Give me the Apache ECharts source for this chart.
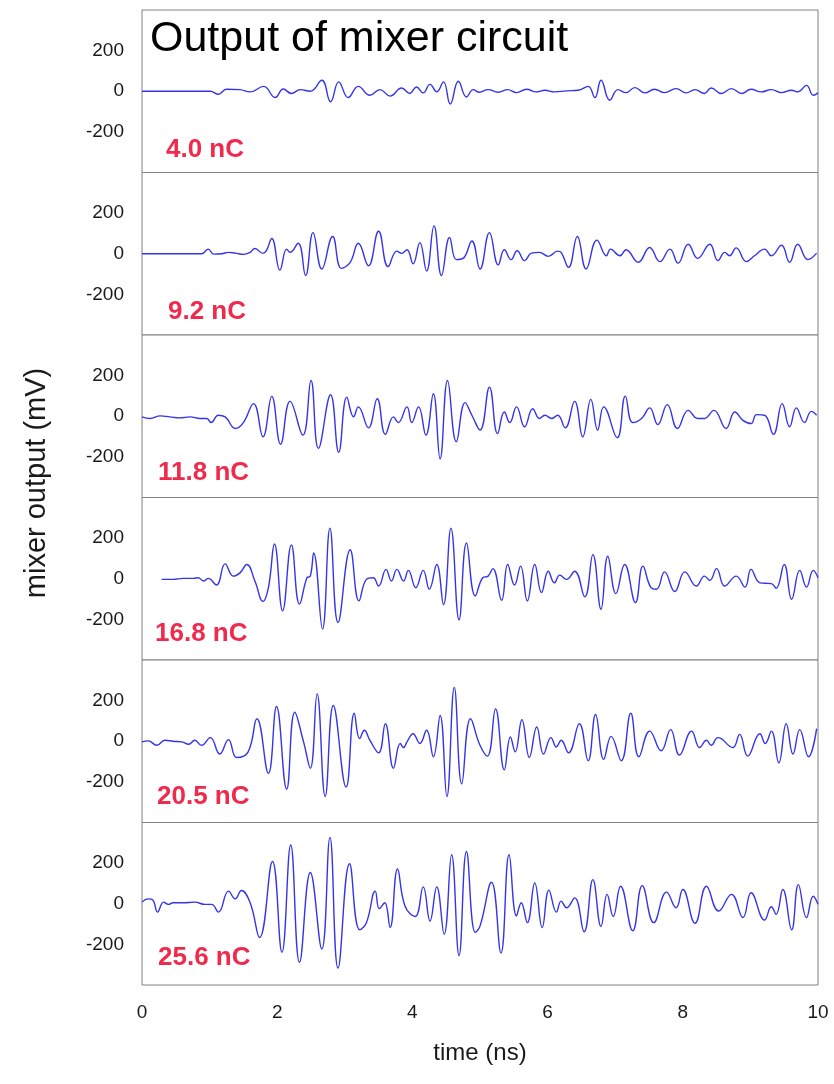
<!DOCTYPE html>
<html><head><meta charset="utf-8">
<script src="https://cdn.jsdelivr.net/npm/echarts@6/dist/echarts.min.js"></script>
<style>html,body{margin:0;padding:0;background:#fff}#c{width:834px;height:1084px}</style>
</head><body><div id="c"></div>
<script>
// ---- data: [time (ns), mixer output (mV)] ----
const charges = ['4.0 nC', '9.2 nC', '11.8 nC', '16.8 nC', '20.5 nC', '25.6 nC'];
const xTicks = [0, 2, 4, 6, 8, 10];
const yTicks = [-200, 0, 200];

const p1 = [[0,0],[1.01,0],[1.13,-15],[1.25,10],[1.45,8],[1.60,-3],[1.80,24],[1.97,-31],[2.09,11],[2.21,-11],[2.34,8],[2.49,0],[2.66,54],[2.79,-52],[2.91,46],[3.05,-31],[3.20,24],[3.37,-20],[3.52,8],[3.67,-24],[3.84,16],[3.96,-11],[4.06,21],[4.16,-8],[4.26,34],[4.36,-3],[4.46,46],[4.56,-63],[4.68,49],[4.80,-28],[4.90,8],[4.99,-5],[5.12,8],[5.27,-5],[5.41,8],[5.54,-7],[5.69,10],[5.83,-3],[5.96,5],[6.10,-3],[6.28,2],[6.45,5],[6.60,24],[6.70,-31],[6.79,54],[6.92,-44],[7.04,8],[7.16,-7],[7.29,18],[7.44,-8],[7.58,10],[7.73,-7],[7.90,13],[8.05,-8],[8.18,8],[8.32,-11],[8.42,16],[8.57,-11],[8.72,13],[8.87,-11],[9.01,10],[9.16,-3],[9.31,8],[9.46,-7],[9.61,5],[9.70,-3],[9.83,29],[9.93,-20],[10.0,-8]];

const p2 = [[0,0],[0.88,0],[0.98,23],[1.06,-2],[1.18,0],[1.28,7],[1.38,3],[1.50,-3],[1.60,7],[1.67,26],[1.79,2],[1.84,15],[1.92,75],[2.04,-80],[2.14,23],[2.19,7],[2.31,52],[2.42,-107],[2.53,104],[2.66,-75],[2.82,85],[2.95,-72],[3.08,-42],[3.20,52],[3.35,-59],[3.50,111],[3.64,-63],[3.77,13],[3.84,2],[3.92,20],[4.01,-50],[4.11,55],[4.21,-85],[4.32,137],[4.43,-107],[4.55,80],[4.65,-29],[4.75,-23],[4.88,63],[5.00,-75],[5.14,104],[5.27,-55],[5.36,20],[5.46,-29],[5.55,15],[5.66,-34],[5.76,3],[5.88,7],[6.01,-13],[6.15,13],[6.20,7],[6.31,-67],[6.44,85],[6.57,-75],[6.73,67],[6.87,-10],[6.93,23],[7.07,-10],[7.16,20],[7.34,-42],[7.51,31],[7.66,-39],[7.81,23],[7.93,-46],[8.08,47],[8.22,-23],[8.40,47],[8.52,-34],[8.62,7],[8.69,-10],[8.79,29],[8.94,-39],[9.06,-10],[9.21,23],[9.31,-10],[9.46,42],[9.58,-42],[9.70,47],[9.85,-29],[9.98,3]];

const p3 = [[0,-3],[0.12,-11],[0.27,2],[0.41,-3],[0.56,-8],[0.71,-3],[0.86,-11],[0.96,-11],[1.02,-31],[1.13,5],[1.23,-3],[1.38,-60],[1.50,-31],[1.65,62],[1.79,-101],[1.92,98],[2.05,-138],[2.19,73],[2.38,-93],[2.50,176],[2.61,-158],[2.79,106],[2.91,-177],[3.03,94],[3.13,-3],[3.20,46],[3.35,-57],[3.48,86],[3.60,-89],[3.72,-3],[3.79,-31],[3.92,46],[3.99,-31],[4.09,46],[4.20,-93],[4.31,111],[4.41,-210],[4.52,176],[4.65,-125],[4.78,67],[4.88,5],[5.00,-68],[5.14,143],[5.26,-85],[5.36,21],[5.44,-31],[5.54,46],[5.66,-52],[5.78,37],[5.88,-11],[5.96,5],[6.06,-11],[6.15,5],[6.26,-57],[6.40,73],[6.52,-101],[6.64,83],[6.74,-68],[6.83,46],[7.03,-106],[7.15,99],[7.26,-31],[7.39,-11],[7.51,41],[7.63,-41],[7.77,57],[7.92,-60],[8.08,29],[8.22,-11],[8.32,-11],[8.46,29],[8.64,-60],[8.77,21],[8.89,-20],[9.01,-36],[9.09,8],[9.21,5],[9.34,-89],[9.47,62],[9.58,-52],[9.68,41],[9.80,-31],[9.90,24],[9.98,5]];

const p4 = [[0.29,-3],[0.46,-3],[0.61,2],[0.76,2],[0.83,5],[0.91,-11],[0.98,2],[1.10,-31],[1.23,73],[1.35,13],[1.45,29],[1.55,70],[1.67,-11],[1.79,-112],[1.87,-44],[1.96,171],[2.08,-158],[2.21,167],[2.33,-125],[2.44,5],[2.49,13],[2.54,127],[2.67,-247],[2.78,249],[2.90,-215],[3.08,143],[3.21,-109],[3.32,-3],[3.42,5],[3.50,-36],[3.61,46],[3.69,-11],[3.77,46],[3.87,-11],[3.94,41],[4.05,-44],[4.16,41],[4.25,-52],[4.36,70],[4.46,-128],[4.57,249],[4.69,-203],[4.80,176],[4.93,-85],[5.04,5],[5.12,13],[5.19,50],[5.32,-106],[5.41,70],[5.51,-31],[5.60,62],[5.70,-109],[5.81,70],[5.91,-68],[6.01,37],[6.10,-20],[6.18,18],[6.28,-3],[6.40,37],[6.55,-89],[6.67,119],[6.79,-150],[6.89,111],[7.01,-73],[7.14,70],[7.30,-117],[7.41,62],[7.53,-44],[7.61,-52],[7.73,34],[7.88,-63],[8.03,34],[8.20,-36],[8.32,13],[8.40,-8],[8.50,50],[8.62,-36],[8.79,13],[8.92,-41],[9.01,46],[9.14,-20],[9.31,-24],[9.38,-47],[9.50,70],[9.61,-101],[9.73,41],[9.83,-41],[9.93,41],[10.0,5]];

const p5 = [[0,-3],[0.09,2],[0.22,-20],[0.34,5],[0.46,0],[0.59,-3],[0.69,-15],[0.78,5],[0.88,-20],[1.01,18],[1.15,-63],[1.28,8],[1.40,-80],[1.57,-52],[1.70,111],[1.87,-158],[1.99,171],[2.14,-236],[2.26,143],[2.39,-3],[2.49,-133],[2.59,233],[2.71,-272],[2.83,176],[3.02,-226],[3.14,138],[3.22,13],[3.29,54],[3.37,5],[3.50,-57],[3.60,86],[3.72,-133],[3.82,-11],[3.87,-31],[3.92,-3],[4.01,37],[4.11,-11],[4.21,54],[4.31,-76],[4.41,127],[4.51,-272],[4.62,265],[4.73,-210],[4.86,111],[5.00,-20],[5.11,-73],[5.23,159],[5.36,-141],[5.45,21],[5.52,-52],[5.62,106],[5.73,-80],[5.84,70],[5.94,-63],[6.05,18],[6.13,-28],[6.20,5],[6.31,-57],[6.47,86],[6.60,-96],[6.71,132],[6.83,-89],[6.94,24],[7.09,-96],[7.23,138],[7.35,-76],[7.51,50],[7.68,-47],[7.82,57],[7.95,-68],[8.13,50],[8.25,-31],[8.35,5],[8.42,-20],[8.52,18],[8.74,-31],[8.84,34],[8.96,-73],[9.14,37],[9.22,-11],[9.31,50],[9.42,-106],[9.53,86],[9.63,-63],[9.73,57],[9.86,-76],[9.98,62]];

const p6 = [[0,8],[0.09,24],[0.16,18],[0.23,-41],[0.32,8],[0.39,-3],[0.46,5],[0.61,5],[0.78,8],[0.93,-3],[1.03,-3],[1.13,-41],[1.28,62],[1.38,24],[1.47,65],[1.60,5],[1.74,-166],[1.93,208],[2.07,-239],[2.20,289],[2.33,-288],[2.49,154],[2.66,-223],[2.78,327],[2.90,-317],[3.07,197],[3.22,-128],[3.32,-93],[3.45,62],[3.51,-24],[3.59,5],[3.67,-117],[3.78,171],[3.89,-11],[4.04,-63],[4.16,83],[4.26,-85],[4.36,83],[4.47,-150],[4.58,241],[4.69,-255],[4.80,257],[4.93,-141],[5.00,-110],[5.17,106],[5.31,-242],[5.43,241],[5.54,-60],[5.61,5],[5.70,-93],[5.81,102],[5.92,-117],[6.02,67],[6.13,-41],[6.20,13],[6.28,-20],[6.40,29],[6.54,-138],[6.67,119],[6.79,-112],[6.88,46],[6.97,-63],[7.08,86],[7.26,-133],[7.40,89],[7.57,-93],[7.76,57],[7.90,-20],[8.00,70],[8.18,-96],[8.35,86],[8.53,-36],[8.72,46],[8.89,-68],[9.01,54],[9.21,-80],[9.31,-15],[9.38,-52],[9.48,70],[9.61,-128],[9.71,94],[9.83,-68],[9.93,37],[10.0,-3]];

const panels = [p1, p2, p3, p4, p5, p6];

// ---- layout ----
const FONT = '"Liberation Sans", Arial, Helvetica, sans-serif';
const gridTops = [10, 172.5, 335, 497.5, 660, 822.5];
const gridH = 162.5;
const labelPos = [[166,150],[168,312],[158,473],[155,634],[157,797],[158,958]];

const grids = [], xAxes = [], yAxes = [], series = [], graphics = [];
panels.forEach((data, i) => {
  const last = i === panels.length - 1;
  grids.push({left: 142, width: 676, top: gridTops[i], height: gridH,
    show: true, borderColor: '#808080', borderWidth: 1, backgroundColor: '#fff'});
  xAxes.push({type: 'value', gridIndex: i, min: 0, max: 10, interval: 2,
    axisLine: {show: false}, axisTick: {show: false}, splitLine: {show: false},
    axisLabel: {show: last, fontFamily: FONT, fontSize: 19, color: '#1a1a1a', margin: 18},
    name: last ? 'time (ns)' : '', nameLocation: 'middle', nameGap: 56,
    nameTextStyle: {fontFamily: FONT, fontSize: 24, color: '#1a1a1a'}});
  yAxes.push({type: 'value', gridIndex: i, min: -400, max: 400, interval: 200,
    axisLine: {show: false}, axisTick: {show: false}, splitLine: {show: false},
    axisLabel: {fontFamily: FONT, fontSize: 19, color: '#1a1a1a', margin: 18,
      formatter: v => yTicks.indexOf(v) >= 0 ? String(v) : ''}});
  series.push({type: 'line', xAxisIndex: i, yAxisIndex: i, data: data,
    showSymbol: false, smooth: 0.45, lineStyle: {color: '#3434e8', width: 1.4},
    animation: false});
  graphics.push({type: 'text', x: labelPos[i][0], y: labelPos[i][1],
    style: {text: charges[i], font: 'bold 26px ' + FONT, fill: '#f02a4c',
      textAlign: 'left', textVerticalAlign: 'middle', align: 'left', verticalAlign: 'middle'}});
});

graphics.push({type: 'text', x: 150, y: 39,
  style: {text: 'Output of mixer circuit', font: '43px ' + FONT, fill: '#000',
    textAlign: 'left', textVerticalAlign: 'middle', align: 'left', verticalAlign: 'middle'}});
graphics.push({type: 'text', x: 37, y: 483, rotation: Math.PI / 2,
  style: {text: 'mixer output (mV)', font: '29px ' + FONT, fill: '#1a1a1a',
    textAlign: 'center', textVerticalAlign: 'middle', align: 'center', verticalAlign: 'middle'}});

const chart = echarts.init(document.getElementById('c'), null, {renderer: 'canvas'});
chart.setOption({
  animation: false,
  backgroundColor: '#fff',
  grid: grids, xAxis: xAxes, yAxis: yAxes, series: series,
  graphic: {elements: graphics}
});
</script></body></html>
